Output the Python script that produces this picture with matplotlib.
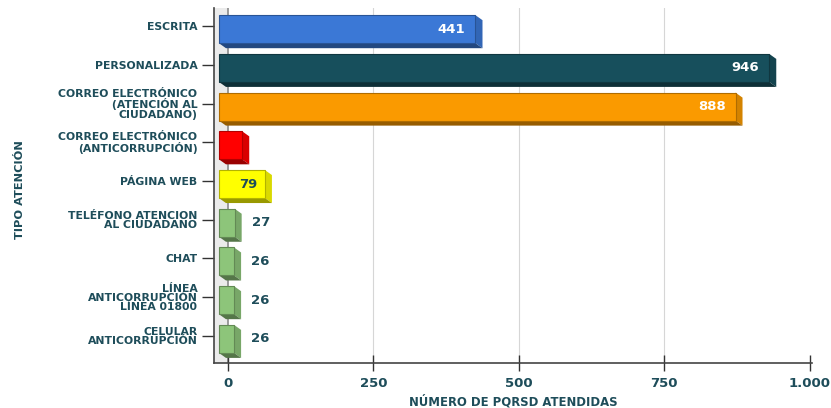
import numpy as np
import matplotlib.pyplot as plt
import matplotlib.colors as mc
from matplotlib.patches import Polygon, Rectangle

# data
categories = ['ESCRITA', 'PERSONALIZADA', 'CORREO ELECTRÓNICO\n(ATENCIÓN AL\nCIUDADANO)',
              'CORREO ELECTRÓNICO\n(ANTICORRUPCIÓN)', 'PÁGINA WEB',
              'TELÉFONO ATENCION\nAL CIUDADANO', 'CHAT',
              'LÍNEA\nANTICORRUPCIÓN\nLÍNEA 01800', 'CELULAR\nANTICORRUPCIÓN']
values = [441, 946, 888, 40, 79, 27, 26, 26, 26]
value_labels = ['441', '946', '888', '', '79', '27', '26', '26', '26']
colors = ['#3b78d6', '#174f5c', '#fa9a00', '#ff0000', '#ffff00',
          '#8dc57a', '#8dc57a', '#8dc57a', '#8dc57a']
xticks = [0, 250, 500, 750, 1000]
xtick_labels = ['0', '250', '500', '750', '1.000']

TEAL = '#1e4d5a'


def darker(c, f):
    r, g, b = mc.to_rgb(c)
    return (r * f, g * f, b * f)


fig = plt.figure(figsize=(8.31, 4.08), dpi=100)
W, H = 831, 408
ax = fig.add_axes([214 / W, (H - 363) / H, (812 - 214) / W, (363 - 8) / H])
XL, XR = -24, 1004
YB, YT = 8.70, -0.47
ax.set_xlim(XL, XR)
ax.set_ylim(YB, YT)

# pixel -> data conversion
sx = (XR - XL) / (812 - 214)
sy = (YB - YT) / (363 - 8)

# light wall on the left
ax.add_patch(Rectangle((XL, YT), -XL, YB - YT, facecolor='#ebebeb', edgecolor='none', zorder=0))
ax.axvline(0, color='#8a8a8a', lw=1.2, zorder=0.5)
for t in xticks[1:-1]:
    ax.axvline(t, color='#d6d6d6', lw=0.8, zorder=0.4)

bh = 28 * sy
dx, dy = 7 * sx, 5 * sy
off = 9 * sx
shift = 3 * sy
for i, (v, c) in enumerate(zip(values, colors)):
    x0 = -off
    x1 = v - off
    yt = i - bh / 2 + shift
    yb = i + bh / 2 + shift
    side = Polygon([(x1, yt), (x1 + dx, yt + dy), (x1 + dx, yb + dy), (x1, yb)],
                   closed=True, facecolor=darker(c, 0.85), edgecolor='none', zorder=2)
    bottom = Polygon([(x0, yb), (x1, yb), (x1 + dx, yb + dy), (x0 + dx, yb + dy)],
                     closed=True, facecolor=darker(c, 0.6), edgecolor='none', zorder=2)
    ax.add_patch(side)
    ax.add_patch(bottom)
    ax.add_patch(Rectangle((x0, yt), x1 - x0, bh, facecolor=c,
                           edgecolor=darker(c, 0.7), lw=0.8, zorder=3))

    lab = value_labels[i]
    if not lab:
        continue
    yc = i + shift
    if v > 300:
        ax.text(x1 - 10 * sx, yc, lab, ha='right', va='center', color='white',
                fontsize=9.5, fontweight='bold', zorder=4)
    elif v > 60:
        ax.text(x1 - 8 * sx, yc, lab, ha='right', va='center', color=TEAL,
                fontsize=9.5, fontweight='bold', zorder=4)
    else:
        ax.text(x1 + dx + 10 * sx, yc, lab, ha='left', va='center', color=TEAL,
                fontsize=9.5, fontweight='bold', zorder=4)

ax.set_yticks(range(len(categories)))
ax.set_yticklabels(categories, fontsize=7.8, fontweight='bold', color=TEAL,
                   linespacing=0.92, ha='right')
ax.set_xticks(xticks)
ax.set_xticklabels(xtick_labels, fontsize=9.5, fontweight='bold', color=TEAL)
ax.tick_params(axis='y', length=9, width=1, color='#333333', pad=3)
ax.tick_params(axis='x', direction='inout', length=12, width=1, color='#333333', pad=4)

for s in ['top', 'right']:
    ax.spines[s].set_visible(False)
ax.spines['left'].set_color('#444444')
ax.spines['bottom'].set_color('#444444')
ax.spines['left'].set_linewidth(1.2)
ax.spines['bottom'].set_linewidth(1.2)

fig.text(513 / W, 1 - 402 / H, 'NÚMERO DE PQRSD ATENDIDAS', ha='center', va='center',
         fontsize=8.4, fontweight='bold', color=TEAL)
fig.text(20 / W, 1 - 190 / H, 'TIPO ATENCIÓN', ha='center', va='center', rotation=90,
         fontsize=8.2, fontweight='bold', color=TEAL)

fig.savefig('out.png', dpi=100)
